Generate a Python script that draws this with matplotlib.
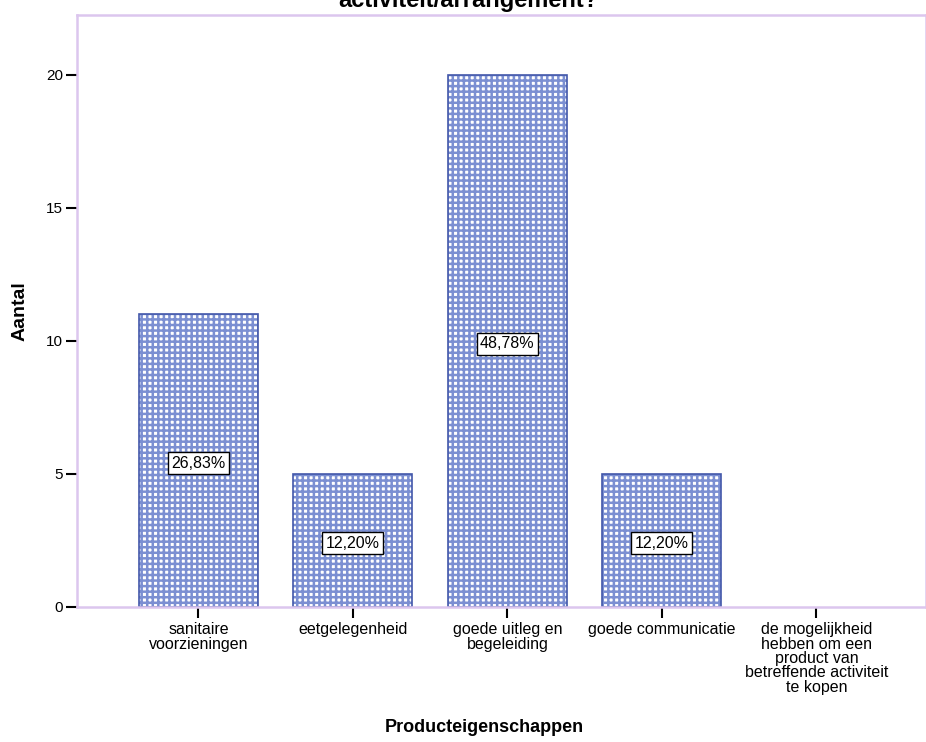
import matplotlib
matplotlib.use("Agg")
import matplotlib.pyplot as plt

plt.rcParams['font.family'] = ['Liberation Sans', 'DejaVu Sans']
plt.rcParams['hatch.linewidth'] = 1.8

categories = ["sanitaire\nvoorzieningen", "eetgelegenheid", "goede uitleg en\nbegeleiding",
              "goede communicatie",
              "de mogelijkheid\nhebben om een\nproduct van\nbetreffende activiteit\nte kopen"]
counts = [11, 5, 20, 5, 0]
percent_labels = ["26,83%", "12,20%", "48,78%", "12,20%", ""]
yticks = [0, 5, 10, 15, 20]

frame_color = "#dcc6ee"
hatch_color = "#7b8fd2"
bar_edge = "#4358aa"

fig = plt.figure(figsize=(9.26, 7.42), dpi=100)
ax = fig.add_axes([77 / 926, 1 - 607 / 742, 1 - 77 / 926, (607 - 15) / 742])

x = list(range(len(categories)))
# empty categories get no outline (nothing drawn on the baseline)
outline_w = [1.2 if c > 0 else 0 for c in counts]
ax.bar(x, counts, width=0.77, color="white", edgecolor=hatch_color, hatch="+++", linewidth=0)
ax.bar(x, counts, width=0.77, fill=False, edgecolor=bar_edge, linewidth=outline_w)

for xi, c, lab in zip(x, counts, percent_labels):
    if lab:
        ax.text(xi, c / 2 - 0.1, lab, ha="center", va="center", fontsize=11.5,
                bbox=dict(boxstyle="square,pad=0.22", facecolor="white", edgecolor="black", linewidth=1))

ax.set_xlim(-0.786, 4.71)
ax.set_ylim(0, 22.25)
ax.set_yticks(yticks)
ax.set_xticks(x)
ax.set_xticklabels(categories, fontsize=11.5, linespacing=0.95)
ax.tick_params(axis="y", labelsize=11, length=8, width=1.5, color="black", direction="out", pad=2)
ax.tick_params(axis="x", length=8, width=1.5, color="black", direction="out", pad=3)

for side in ["left", "bottom", "top", "right"]:
    ax.spines[side].set_color(frame_color)
    ax.spines[side].set_linewidth(1.8)

fig.text(20 / 926, 1 - 311 / 742, "Aantal", rotation=90, ha="center", va="center",
         fontsize=14, fontweight="bold")
fig.text(484 / 926, 1 - 728 / 742, "Producteigenschappen", ha="center", va="center",
         fontsize=13, fontweight="bold")
fig.text(468 / 926, 1 - 1 / 742, "activiteit/arrangement?", ha="center", va="center",
         fontsize=17, fontweight="bold")

fig.savefig("out.png", dpi=100)
